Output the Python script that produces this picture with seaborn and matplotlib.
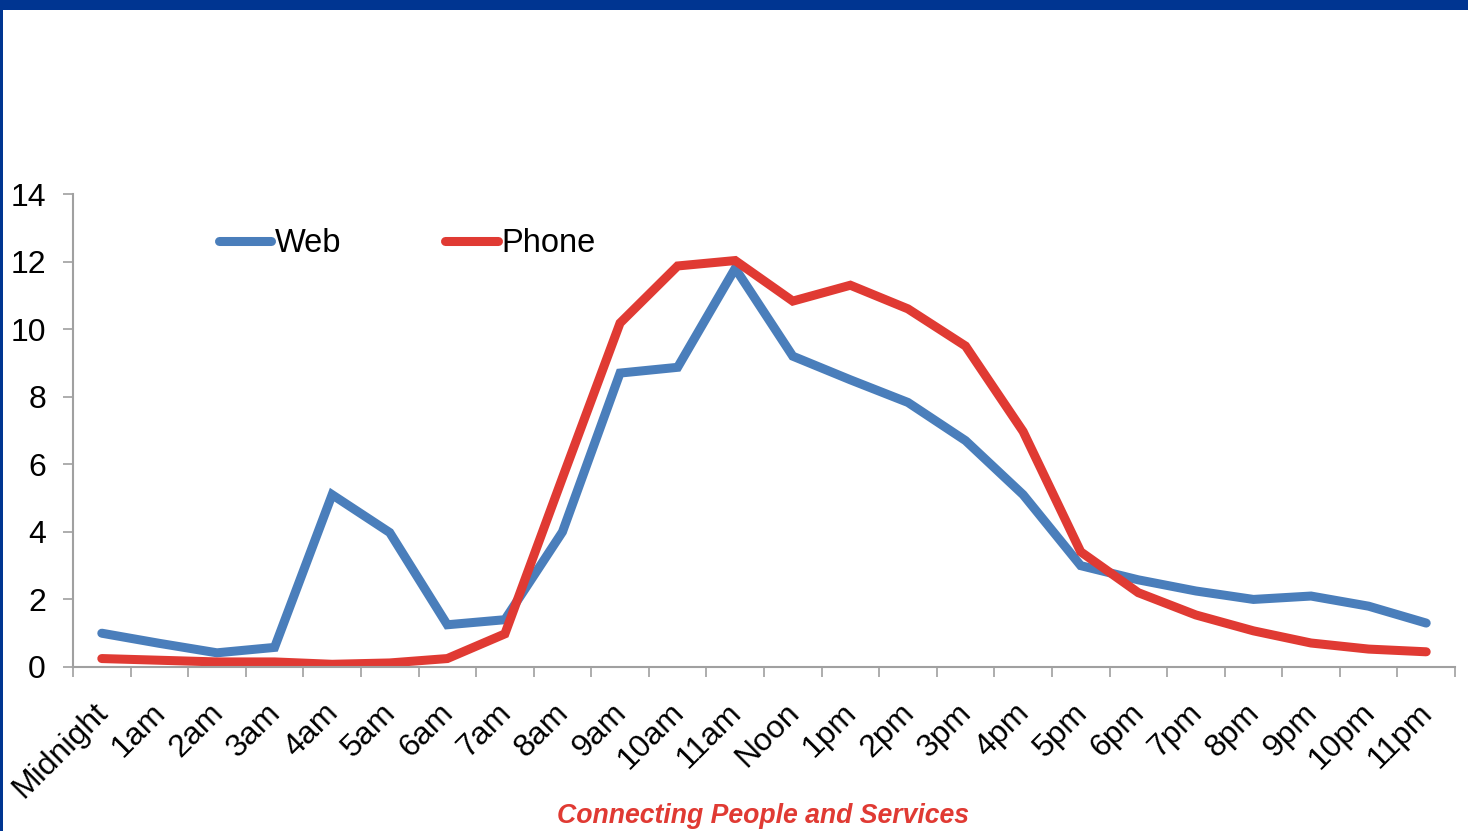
import numpy as np
import pandas as pd
import seaborn as sns
import matplotlib
matplotlib.use("Agg")
import matplotlib.pyplot as plt
from matplotlib.patches import Rectangle

hours = ["Midnight", "1am", "2am", "3am", "4am", "5am", "6am", "7am", "8am", "9am",
         "10am", "11am", "Noon", "1pm", "2pm", "3pm", "4pm", "5pm", "6pm", "7pm",
         "8pm", "9pm", "10pm", "11pm"]
web = [1.0, 0.7, 0.42, 0.58, 5.1, 3.98, 1.25, 1.4, 4.0, 8.7,
       8.87, 11.8, 9.2, 8.5, 7.83, 6.7, 5.1, 3.0, 2.58, 2.25,
       2.0, 2.1, 1.8, 1.3]
phone = [0.25, 0.2, 0.15, 0.15, 0.08, 0.12, 0.25, 0.98, 5.6, 10.18,
         11.87, 12.03, 10.83, 11.3, 10.6, 9.5, 6.97, 3.41, 2.2, 1.54,
         1.07, 0.71, 0.53, 0.45]
series_names = ["Web", "Phone"]
y_ticks = [0, 2, 4, 6, 8, 10, 12, 14]
subtitle = "Connecting People and Services"

sns.set_theme(style="white")
plt.rcParams["font.family"] = ["Liberation Sans", "DejaVu Sans"]
plt.rcParams["text.color"] = "black"
plt.rcParams["xtick.color"] = "#A0A0A0"
plt.rcParams["ytick.color"] = "#A0A0A0"
plt.rcParams["xtick.labelcolor"] = "black"
plt.rcParams["ytick.labelcolor"] = "black"

df = pd.DataFrame({
    "pos": list(range(len(hours))) * 2,
    "value": web + phone,
    "series": [series_names[0]] * len(hours) + [series_names[1]] * len(hours),
})

W, H = 1468, 831
fig = plt.figure(figsize=(W / 100, H / 100), dpi=100)
fig.patch.set_facecolor("white")
ax = fig.add_axes([73 / W, 1 - 667 / H, (1455 - 73) / W, (667 - 194) / H])

palette = {"Web": "#4A7EBB", "Phone": "#E03A33"}
sns.lineplot(data=df, x="pos", y="value", hue="series", palette=palette,
             linewidth=6.5, sort=False, ax=ax, legend=True)
for ln in ax.get_lines():
    ln.set_solid_capstyle("round")
    ln.set_solid_joinstyle("miter")

ax.set_xlim(-0.5, len(hours) - 0.5)
ax.set_ylim(0, 14)
ax.set_yticks(y_ticks)
ax.set_yticklabels([str(t) for t in y_ticks], fontsize=23)
# label anchors nudged slightly left of category centres (rotated labels)
ax.set_xticks(np.arange(len(hours)) - 0.15)
ax.set_xticklabels(hours, rotation=45, ha="right", rotation_mode="anchor", fontsize=23)
ax.set_xticks(np.arange(-0.5, len(hours), 1.0), minor=True)
ax.tick_params(axis="x", which="major", bottom=True, length=0, pad=22)
ax.tick_params(axis="x", which="minor", bottom=True, length=7.5, width=1.2,
               color="#A0A0A0", direction="out")
ax.tick_params(axis="y", which="major", left=True, length=7.5, width=1.2,
               color="#A0A0A0", direction="out", pad=12)
ax.set_xlabel("")
ax.set_ylabel("")
for s in ["top", "right"]:
    ax.spines[s].set_visible(False)
for s in ["left", "bottom"]:
    ax.spines[s].set_color("#A0A0A0")
    ax.spines[s].set_linewidth(1.5)
ax.grid(False)

leg = ax.legend(loc="center left", bbox_to_anchor=((219 - 73) / (1455 - 73), (667 - 244) / (667 - 194)),
                ncol=2, frameon=False, fontsize=23.5, handlelength=1.6, handletextpad=0.1,
                columnspacing=3.2, borderaxespad=0, borderpad=0)
for h in leg.get_lines():
    h.set_linewidth(6.5)
    h.set_solid_capstyle("round")
for t in leg.get_texts():
    t.set_color("black")

# border decorations
fig.add_artist(Rectangle((0, 1 - 10 / H), 1, 10 / H, transform=fig.transFigure,
                         facecolor="#003591", edgecolor="none"))
fig.add_artist(Rectangle((0, 0), 3 / W, 1, transform=fig.transFigure,
                         facecolor="#003591", edgecolor="none"))

fig.text(763 / W, 1 - 816 / H, subtitle, color="#E03A33", fontsize=19.2,
         fontweight="bold", fontstyle="italic", ha="center", va="center")

fig.savefig("out.png", dpi=100)
